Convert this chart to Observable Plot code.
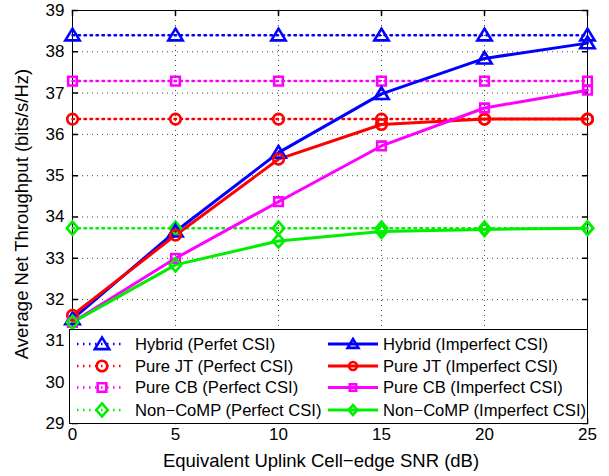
<!DOCTYPE html>
<html><head><meta charset="utf-8">
<script src="https://cdn.jsdelivr.net/npm/d3@7"></script>
<script src="https://cdn.jsdelivr.net/npm/@observablehq/plot@0.6"></script>
<style>
body{margin:0;background:#fff;font-family:"Liberation Sans",Arial,sans-serif;}
#wrap{position:relative;width:609px;height:476px;}
#legend{position:absolute;left:68px;top:328px;}
</style></head><body><div id="wrap"></div>
<script>
// ---- data ----
const snr = [0, 5, 10, 15, 20, 25];
const hybridPerfect   = [38.4, 38.4, 38.4, 38.4, 38.4, 38.4];
const jtPerfect       = [36.37, 36.37, 36.37, 36.37, 36.37, 36.37];
const cbPerfect       = [37.29, 37.29, 37.29, 37.29, 37.29, 37.29];
const noncompPerfect  = [33.73, 33.73, 33.73, 33.73, 33.73, 33.73];
const hybridImperfect  = [31.53, 33.65, 35.56, 36.98, 37.84, 38.21];
const jtImperfect      = [31.62, 33.56, 35.4, 36.24, 36.37, 36.37];
const cbImperfect      = [31.45, 33.0, 34.37, 35.72, 36.64, 37.07];
const noncompImperfect = [31.45, 32.84, 33.42, 33.65, 33.7, 33.73];
const xTicks = [0, 5, 10, 15, 20, 25];
const yTicks = [29, 30, 31, 32, 33, 34, 35, 36, 37, 38, 39];
const seriesNames = ["Hybrid", "Pure JT", "Pure CB", "Non\u2212CoMP"];
const perfectLabels = ["Hybrid (Perfet CSI)", "Pure JT (Perfect CSI)", "Pure CB (Perfect CSI)", "Non\u2212CoMP (Perfect CSI)"];
const imperfectLabels = ["Hybrid (Imperfect CSI)", "Pure JT (Imperfect CSI)", "Pure CB (Imperfect CSI)", "Non\u2212CoMP (Imperfect CSI)"];
const colors = ["#0000ff", "#ff0000", "#ff00ff", "#00ee00"];
const xLabel = "Equivalent Uplink Cell\u2212edge SNR (dB)";
const yLabel = "Average Net Throughput (bits/s/Hz)";

// ---- marker shapes (MATLAB-like) ----
const symbols = [
  {draw(c, size){ const r = Math.sqrt(size/Math.PI); c.moveTo(0,-r*1.1); c.lineTo(r*1.2,r*0.85); c.lineTo(-r*1.2,r*0.85); c.closePath(); }},
  {draw(c, size){ const r = Math.sqrt(size/Math.PI)*0.88; c.moveTo(r,0); c.arc(0,0,r,0,2*Math.PI); c.closePath(); }},
  {draw(c, size){ const r = Math.sqrt(size/Math.PI)*0.72; c.rect(-r,-r,2*r,2*r); }},
  {draw(c, size){ const r = Math.sqrt(size/Math.PI); c.moveTo(0,-r*1.1); c.lineTo(r*0.95,0); c.lineTo(0,r*1.1); c.lineTo(-r*0.95,0); c.closePath(); }}
];

const perfect = [hybridPerfect, jtPerfect, cbPerfect, noncompPerfect];
const imperfect = [hybridImperfect, jtImperfect, cbImperfect, noncompImperfect];
const rows = (vals) => snr.map((s, i) => ({snr: s, value: vals[i]}));

const tickShape = {draw(c, l){ c.moveTo(0,0); c.lineTo(0,-l); }};
const gridStyle = {stroke: "#444", strokeOpacity: 1, strokeWidth: 1, strokeDasharray: "1,4"};
const FONT = "'Liberation Sans', Arial, sans-serif";

const marks = [
  Plot.gridX(xTicks.slice(1, -1), gridStyle),
  Plot.gridY(yTicks.slice(1, -1), gridStyle),
  Plot.vector(xTicks, {x: d => d, frameAnchor: "bottom", rotate: 0, length: 5, anchor: "start", shape: tickShape, stroke: "#000"}),
  Plot.vector(xTicks, {x: d => d, frameAnchor: "top", rotate: 180, length: 5, anchor: "start", shape: tickShape, stroke: "#000"}),
  Plot.vector(yTicks, {y: d => d, frameAnchor: "left", rotate: 90, length: 5, anchor: "start", shape: tickShape, stroke: "#000"}),
  Plot.vector(yTicks, {y: d => d, frameAnchor: "right", rotate: -90, length: 5, anchor: "start", shape: tickShape, stroke: "#000"}),
  Plot.frame({stroke: "#000", strokeWidth: 1}),
  Plot.axisX(xTicks, {tickSize: 0, tickPadding: 4, fontSize: 17, label: null}),
  Plot.axisY(yTicks, {tickSize: 0, tickPadding: 8, fontSize: 17, label: null}),
  Plot.text([xLabel], {frameAnchor: "bottom", textAnchor: "middle", lineAnchor: "middle", dy: 38, dx: -9, fontSize: 18.5, text: d => d}),
  Plot.text([yLabel], {frameAnchor: "left", textAnchor: "middle", lineAnchor: "middle", dx: -50, dy: -3, rotate: -90, fontSize: 18.5, text: d => d})
];
perfect.forEach((vals, k) => {
  marks.push(Plot.line(rows(vals), {x: "snr", y: "value", stroke: colors[k], strokeWidth: 2.5, strokeDasharray: "1.5,4.5"}));
});
imperfect.forEach((vals, k) => {
  marks.push(Plot.line(rows(vals), {x: "snr", y: "value", stroke: colors[k], strokeWidth: 3}));
});
perfect.forEach((vals, k) => {
  marks.push(Plot.dot(rows(vals), {x: "snr", y: "value", stroke: colors[k], symbol: symbols[k], r: 6, strokeWidth: 2.6, fill: "none"}));
});
imperfect.forEach((vals, k) => {
  marks.push(Plot.dot(rows(vals), {x: "snr", y: "value", stroke: colors[k], symbol: symbols[k], r: 6, strokeWidth: 2.6, fill: "none"}));
});

const chart = Plot.plot({
  width: 609, height: 476,
  marginLeft: 72, marginRight: 22, marginTop: 10, marginBottom: 53,
  x: {domain: [0, 25], label: null},
  y: {domain: [29, 39], label: null},
  style: {fontFamily: FONT, fontSize: "16px", color: "#000", background: "#fff"},
  marks
});
const wrap = document.getElementById("wrap");
wrap.appendChild(chart);

// ---- legend (inside the axes, bottom) ----
const NS = "http://www.w3.org/2000/svg";
const leg = document.createElementNS(NS, "svg");
leg.setAttribute("id", "legend");
leg.setAttribute("width", 522); leg.setAttribute("height", 97);
const el = (tag, attrs, parent) => { const e = document.createElementNS(NS, tag); for (const a in attrs) e.setAttribute(a, attrs[a]); (parent || leg).appendChild(e); return e; };
el("rect", {x: 1.5, y: 1.5, width: 518, height: 94, fill: "#fff", stroke: "#000", "stroke-width": 1});
const rowY = [16, 38, 59.5, 82];
const symPath = (k, r) => { const p = d3.path(); symbols[k].draw(p, r*r*Math.PI); return p.toString(); };
seriesNames.forEach((n, k) => {
  const y = rowY[k];
  // perfect (left column)
  el("line", {x1: 9, x2: 57, y1: y, y2: y, stroke: colors[k], "stroke-width": 2.5, "stroke-dasharray": "1.5,4.5"});
  el("path", {d: symPath(k, 6), transform: `translate(34,${y})`, fill: "none", stroke: colors[k], "stroke-width": 2.6});
  const t1 = el("text", {x: 67, y: y, "dominant-baseline": "central", "font-size": 16.6, "font-family": FONT});
  t1.textContent = perfectLabels[k];
  // imperfect (right column)
  el("line", {x1: 260, x2: 310, y1: y, y2: y, stroke: colors[k], "stroke-width": 3});
  el("path", {d: symPath(k, 4.5), transform: `translate(285,${y})`, fill: "none", stroke: colors[k], "stroke-width": 2.6});
  const t2 = el("text", {x: 315, y: y, "dominant-baseline": "central", "font-size": 16.6, "font-family": FONT});
  t2.textContent = imperfectLabels[k];
});
wrap.appendChild(leg);
</script>
</body></html>
